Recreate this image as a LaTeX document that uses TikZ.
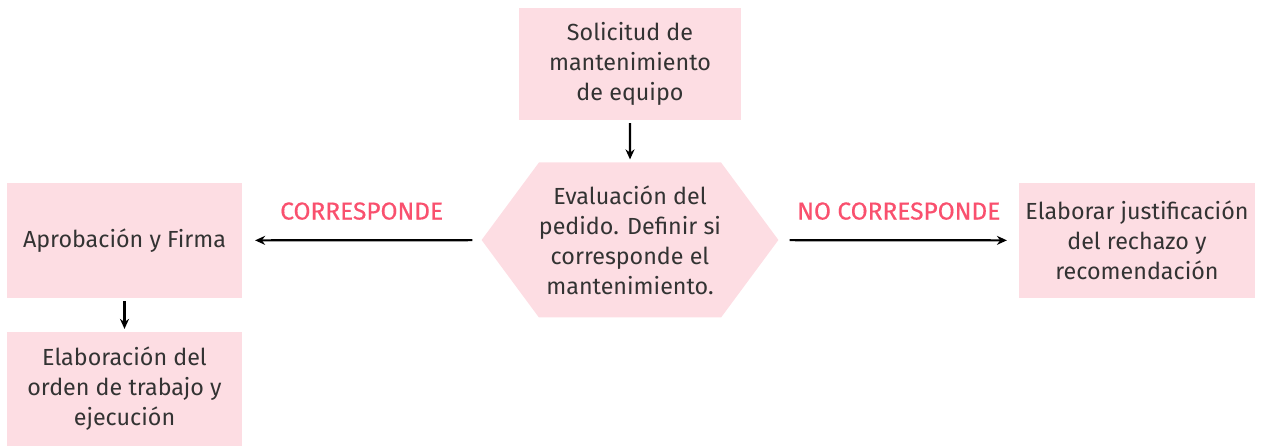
\documentclass[tikz,border=0pt]{standalone}
\usepackage{fontspec}
\setmainfont{Fira Sans}
\usetikzlibrary{arrows.meta,shapes.symbols}

\definecolor{boxpink}{HTML}{FDDDE3}
\definecolor{labelred}{HTML}{F9506E}
\definecolor{textgray}{HTML}{333333}

\begin{document}
\begin{tikzpicture}[x=1pt,y=1pt,>={Stealth[length=10pt,width=9pt]},line width=2.2pt,
  box/.style={fill=boxpink,text=textgray,align=center,inner sep=0pt,
    font=\fontsize{23.3}{30}\selectfont},
  decide/.style={box,signal,signal to=west and east,signal pointer angle=107},
  answer/.style={text=labelred,font=\fontsize{24.5}{28}\selectfont\addfontfeature{FakeBold=0.5}}]
  \useasboundingbox (0,0) rectangle (1271,446);

  \node[box, minimum width=222pt, minimum height=112pt] (req)     at (630,382)   {Solicitud de\\mantenimiento\\de equipo};
  \node[decide, minimum width=296pt, minimum height=155pt] (eval) at (630,206)   {Evaluación del\\pedido. Definir si\\corresponde el\\mantenimiento.};
  \node[box, minimum width=235pt, minimum height=115pt] (approve) at (124.5,205.5) {Aprobación y Firma};
  \node[box, minimum width=236pt, minimum height=115pt] (reject)  at (1137,205.5)  {Elaborar justificación\\del rechazo y\\recomendación};
  \node[box, minimum width=235pt, minimum height=114pt] (order)   at (124.5,57)    {Elaboración del\\orden de trabajo y\\ejecución};

  \path[->]
  (req)
  edge [shorten <=2pt, shorten >=2pt]
  node
  {} (eval)

  (eval)
  edge [shorten <=8pt, shorten >=12pt]
  node [answer, above=16pt]
  {CORRESPONDE} (approve)
  edge [shorten <=10pt, shorten >=11pt]
  node [answer, above=16pt]
  {NO CORRESPONDE} (reject)

  (approve)
  edge [shorten <=2pt, shorten >=2pt]
  node
  {} (order)
;

\end{tikzpicture}
\end{document}
